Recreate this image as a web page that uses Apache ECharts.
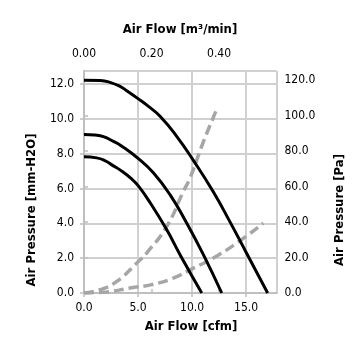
<!DOCTYPE html>
<html>
<head>
<meta charset="utf-8">
<script src="https://cdn.jsdelivr.net/npm/echarts@6/dist/echarts.min.js"></script>
<style>html,body{margin:0;padding:0;background:#fff}#c{width:355px;height:355px}</style>
</head>
<body>
<div id="c"></div>
<script>
// Fan curves [cfm, mm-H2O]
const fanHigh = [[0,12.22],[1.5,12.2],[2.4,12.1],[3.3,11.88],[3.95,11.62],[5.03,11.15],[6.0,10.7],[7.04,10.15],[8.58,9.0],[10.12,7.62],[11.98,5.8],[13.5,4.1],[15.04,2.3],[17.0,0]];
const fanMid  = [[0,9.1],[1.0,9.07],[1.8,8.98],[2.72,8.71],[3.33,8.5],[5.03,7.72],[6.42,6.9],[7.96,5.65],[9.5,4.02],[11.05,2.2],[12.75,0]];
const fanLow  = [[0,7.82],[1.17,7.76],[2.0,7.58],[2.72,7.3],[3.33,7.07],[4.41,6.55],[5.03,6.15],[6.11,5.2],[7.65,3.64],[8.89,2.2],[10.9,0]];
// System impedance curves [cfm, Pa]
const impSteep   = [[0,0],[1.48,1.85],[3.03,6.5],[5.03,17.7],[5.8,22.5],[7.65,37.4],[9.26,58],[9.81,64.6],[11.05,85.1],[12.22,102.5]];
const impShallow = [[0,0],[2.1,0.6],[4.26,2.8],[6.27,4.7],[8.27,8.4],[10.12,14],[11.98,19.7],[14.13,28.1],[16.6,39.3]];
// Axis settings
const xBottomMax = 17.82, xTopMax = 0.570;
const yLeftMax = 12.75, yRightMax = 125;

const FONT = "'Liberation Sans Narrow','DejaVu Sans Condensed','Liberation Sans',sans-serif";
const chart = echarts.init(document.getElementById('c'), null, {renderer:'canvas'});
const axisLine = {show:true, lineStyle:{color:'#bfbfbf', width:2}};
const tick = {show:true, inside:false, length:4, lineStyle:{color:'#bfbfbf', width:1.5}};
const gridLine = {show:true, lineStyle:{color:'#d0d0d0', width:2, type:'solid'}};
const lbl = (d, m) => ({color:'#000', fontFamily:FONT, fontSize:12, margin:m, showMaxLabel:false, formatter: v => v.toFixed(d)});
const black = d => ({type:'line', xAxisIndex:0, yAxisIndex:0, data:d, smooth:0.5, symbol:'none', lineStyle:{color:'#000', width:3}, z:3});
const grey = d => ({type:'line', xAxisIndex:0, yAxisIndex:1, data:d, smooth:0.5, symbol:'none', lineStyle:{color:'#a6a6a6', width:3.5, type:[10,5]}, z:2});
const title = (t, x, y, rot) => ({type:'text', x:x, y:y, rotation:rot, style:{text:t, font:'bold 13px ' + FONT, fill:'#000', align:'center', verticalAlign:'middle'}});

chart.setOption({
  animation:false,
  grid:{left:84, right:78.5, top:71, bottom:62},
  xAxis:[
    {type:'value', position:'bottom', min:0, max:xBottomMax, interval:5, axisLine:axisLine, axisTick:tick,
     axisLabel:lbl(1, 9), splitLine:gridLine},
    {type:'value', position:'top', min:0, max:xTopMax, interval:0.2, axisLine:axisLine, axisTick:tick,
     axisLabel:lbl(2, 11), splitLine:{show:false}}
  ],
  yAxis:[
    {type:'value', position:'left', min:0, max:yLeftMax, interval:2, axisLine:axisLine, axisTick:tick,
     axisLabel:lbl(1, 10), splitLine:gridLine},
    {type:'value', position:'right', min:0, max:yRightMax, interval:20, axisLine:axisLine, axisTick:tick,
     axisLabel:lbl(1, 8), splitLine:{show:false}}
  ],
  graphic:[
    title('Air Flow [m³/min]', 180, 30, 0),
    title('Air Flow [cfm]', 191, 327, 0),
    title('Air Pressure [mm-H2O]', 32, 210, Math.PI/2),
    title('Air Pressure [Pa]', 340, 210, Math.PI/2)
  ],
  series:[black(fanHigh), black(fanMid), black(fanLow), grey(impSteep), grey(impShallow)]
});
</script>
</body>
</html>
